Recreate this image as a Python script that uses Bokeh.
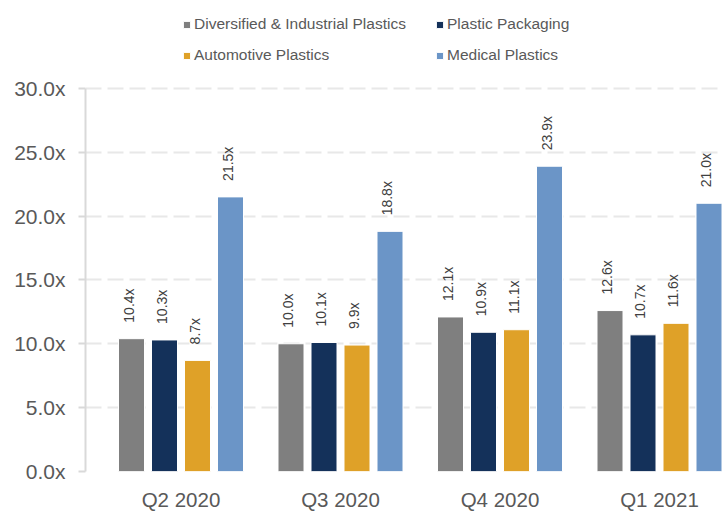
from math import pi
from bokeh.plotting import figure
from bokeh.models import ColumnDataSource, Range1d, FixedTicker, Legend, LegendItem
from bokeh.transform import dodge
from bokeh.core.properties import value
from bokeh.embed import file_html
from bokeh.resources import INLINE

quarters = ["Q2 2020", "Q3 2020", "Q4 2020", "Q1 2021"]
series_names = ["Diversified & Industrial Plastics", "Plastic Packaging",
                "Automotive Plastics", "Medical Plastics"]
diversified = [10.4, 10.0, 12.1, 12.6]
packaging = [10.3, 10.1, 10.9, 10.7]
automotive = [8.7, 9.9, 11.1, 11.6]
medical = [21.5, 18.8, 23.9, 21.0]
colors = ["#7f7f7f", "#14315a", "#dfa128", "#6b95c7"]
y_ticks = [0, 5, 10, 15, 20, 25, 30]
y_tick_labels = ["0.0x", "5.0x", "10.0x", "15.0x", "20.0x", "25.0x", "30.0x"]

FONT = "Liberation Sans"
TXT = "#595959"
PX = 159.5          # pixels per quarter group
W, H = 722, 513
LEFT = 85
BOTTOM = 41
PY = 12.8           # pixels per 1.0x

idx = list(range(len(quarters)))
src = ColumnDataSource(dict(
    idx=idx,
    s0=diversified, s1=packaging, s2=automotive, s3=medical,
    l0=[f"{v:.1f}x" for v in diversified],
    l1=[f"{v:.1f}x" for v in packaging],
    l2=[f"{v:.1f}x" for v in automotive],
    l3=[f"{v:.1f}x" for v in medical],
))

x_start = -95.5 / PX
x_end = x_start + (W - LEFT) / PX
y_end = (H - BOTTOM) / PY

p = figure(width=W, height=H, output_backend="svg", toolbar_location=None,
           x_range=Range1d(x_start, x_end), y_range=Range1d(0, y_end),
           min_border_left=LEFT, min_border_right=0, min_border_top=0,
           min_border_bottom=BOTTOM)
p.outline_line_color = None
p.background_fill_color = "white"
p.border_fill_color = "white"

bw = 26 / PX
step = 33 / PX
offsets = [-1.5 * step, -0.5 * step, 0.5 * step, 1.5 * step]
items = []
for k in range(4):
    r = p.vbar(x=dodge("idx", offsets[k], range=p.x_range), top=f"s{k}", width=bw,
               source=src, fill_color=colors[k], line_color="white", line_width=1)
    items.append(LegendItem(label=series_names[k], renderers=[r]))
    p.text(x=dodge("idx", offsets[k], range=p.x_range), y=f"s{k}", text=f"l{k}",
           source=src, angle=pi / 2, text_align="left", text_baseline="middle",
           x_offset=-3, y_offset=-16, text_font=value(FONT),
           text_font_size="14px", text_color="#404040")

legend = Legend(items=items, orientation="horizontal", ncols=2,
                location=(97, 406), padding=0, margin=0, spacing=11,
                glyph_width=9, glyph_height=9, label_standoff=3,
                label_height=20, label_width=230,
                label_text_font=FONT, label_text_font_size="15.5px",
                label_text_color=TXT, border_line_color=None,
                background_fill_alpha=0)
p.add_layout(legend, "center")

# y axis
p.yaxis.ticker = FixedTicker(ticks=y_ticks)
p.yaxis.bounds = (y_ticks[0], y_ticks[-1])
p.yaxis.major_label_overrides = {t: l for t, l in zip(y_ticks, y_tick_labels)}
p.yaxis.axis_line_color = "#d9d9d9"
p.yaxis.axis_line_width = 2
p.yaxis.major_tick_line_color = "#d9d9d9"
p.yaxis.major_tick_line_width = 2
p.yaxis.major_tick_out = 7
p.yaxis.major_tick_in = 0
p.yaxis.minor_tick_line_color = None
p.yaxis.major_label_standoff = 13
p.yaxis.major_label_text_font = FONT
p.yaxis.major_label_text_font_size = "21px"
p.yaxis.major_label_text_color = TXT

# x axis
p.xaxis.ticker = FixedTicker(ticks=idx)
p.xaxis.major_label_overrides = {i: q for i, q in zip(idx, quarters)}
p.xaxis.axis_line_color = None
p.xaxis.major_tick_line_color = None
p.xaxis.minor_tick_line_color = None
p.xaxis.major_tick_out = 0
p.xaxis.major_label_standoff = 16
p.xaxis.major_label_text_font = FONT
p.xaxis.major_label_text_font_size = "20.5px"
p.xaxis.major_label_text_color = TXT

p.xgrid.visible = False
p.ygrid.grid_line_color = "#e8e8e8"
p.ygrid.grid_line_width = 2
p.ygrid.grid_line_dash = "16 6"

open("out.html", "w").write(file_html(p, INLINE))
